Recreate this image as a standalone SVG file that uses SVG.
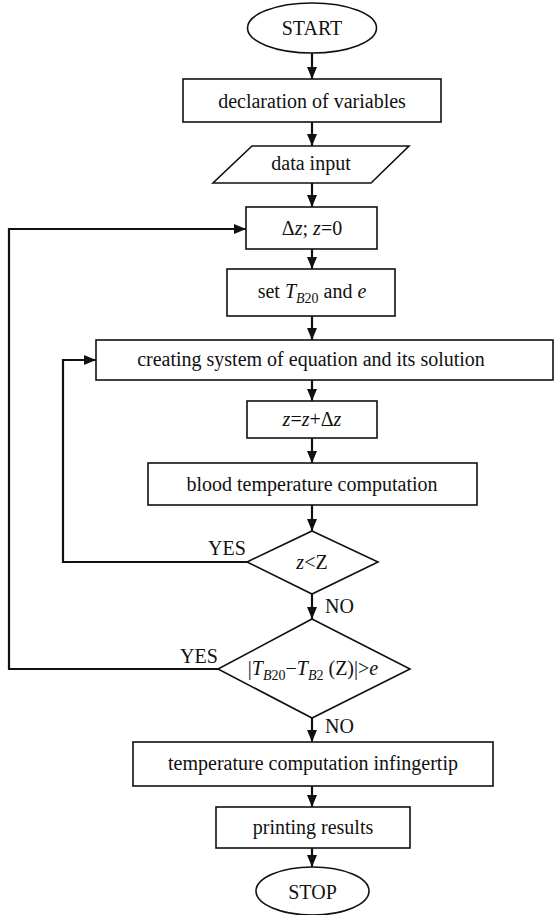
<svg xmlns="http://www.w3.org/2000/svg" width="554" height="915" viewBox="0 0 554 915">
<style>
.n{fill:#fff;stroke:#111;stroke-width:1.6}
.t{font-family:"Liberation Serif","Times New Roman",serif;font-size:20px;fill:#111;text-anchor:middle}
.l{font-family:"Liberation Serif","Times New Roman",serif;font-size:20px;fill:#111}
.i{font-style:italic}
.c{fill:none;stroke:#111;stroke-width:2.2}
</style>
<defs>
<marker id="ah" viewBox="0 0 12 10" refX="12" refY="5" markerWidth="12" markerHeight="10" markerUnits="userSpaceOnUse" orient="auto">
<path d="M0,0 L12,5 L0,10 z" fill="#111"/>
</marker>
</defs>
<rect width="554" height="915" fill="#fff"/>
<g id="connectors">
<line class="c" x1="312" y1="53" x2="312" y2="79" marker-end="url(#ah)"/>
<line class="c" x1="312" y1="122" x2="312" y2="146" marker-end="url(#ah)"/>
<line class="c" x1="312" y1="183" x2="312" y2="207" marker-end="url(#ah)"/>
<line class="c" x1="312" y1="249" x2="312" y2="269" marker-end="url(#ah)"/>
<line class="c" x1="312" y1="316" x2="312" y2="340" marker-end="url(#ah)"/>
<line class="c" x1="312" y1="380" x2="312" y2="401" marker-end="url(#ah)"/>
<line class="c" x1="312" y1="438" x2="312" y2="463" marker-end="url(#ah)"/>
<line class="c" x1="312" y1="505" x2="312" y2="531" marker-end="url(#ah)"/>
<line class="c" x1="312" y1="594" x2="312" y2="619" marker-end="url(#ah)"/>
<line class="c" x1="312" y1="718" x2="312" y2="742" marker-end="url(#ah)"/>
<line class="c" x1="312" y1="786" x2="312" y2="807" marker-end="url(#ah)"/>
<line class="c" x1="312" y1="848" x2="312" y2="867" marker-end="url(#ah)"/>
<polyline class="c" points="247,562 63,562 63,360 96,360" marker-end="url(#ah)"/>
<polyline class="c" points="218,669 9,669 9,229 246,229" marker-end="url(#ah)"/>
<text class="l" x="208" y="555">YES</text>
<text class="l" x="325" y="613">NO</text>
<text class="l" x="180" y="663">YES</text>
<text class="l" x="325" y="733">NO</text>
</g>
<g id="start">
<ellipse class="n" cx="312" cy="28" rx="64.5" ry="25"/>
<text class="t" x="312" y="35">START</text>
</g>
<g id="declaration">
<rect class="n" x="183" y="79" width="258" height="43"/>
<text class="t" x="312" y="108">declaration of variables</text>
</g>
<g id="data-input">
<polygon class="n" points="252,146 409,146 371,183 213,183"/>
<text class="t" x="311" y="170">data input</text>
</g>
<g id="init">
<rect class="n" x="246" y="207" width="131" height="42"/>
<text class="t" x="312" y="235">Δ<tspan class="i">z</tspan>; <tspan class="i">z</tspan>=0</text>
</g>
<g id="set">
<rect class="n" x="227" y="269" width="168" height="47"/>
<text class="t" x="312" y="298">set <tspan class="i">T</tspan><tspan class="i" font-size="14" dy="5">B</tspan><tspan font-size="14">20</tspan><tspan dy="-5"> and </tspan><tspan class="i">e</tspan></text>
</g>
<g id="creating">
<rect class="n" x="96" y="340" width="457" height="40"/>
<text class="t" x="311" y="366">creating system of equation and its solution</text>
</g>
<g id="increment">
<rect class="n" x="247" y="401" width="130" height="37"/>
<text class="t" x="312" y="426"><tspan class="i">z</tspan>=<tspan class="i">z</tspan>+Δ<tspan class="i">z</tspan></text>
</g>
<g id="blood">
<rect class="n" x="148" y="463" width="329" height="42"/>
<text class="t" x="312" y="491">blood temperature computation</text>
</g>
<g id="decision1">
<polygon class="n" points="312,531 378,562 312,594 247,562"/>
<text class="t" x="312" y="569"><tspan class="i">z</tspan>&lt;Z</text>
</g>
<g id="decision2">
<polygon class="n" points="312,619 410,669 312,718 218,669"/>
<text class="t" x="313" y="675">|<tspan class="i">T</tspan><tspan class="i" font-size="14" dy="5">B</tspan><tspan font-size="14">20</tspan><tspan dy="-5">−</tspan><tspan class="i">T</tspan><tspan class="i" font-size="14" dy="5">B</tspan><tspan font-size="14">2</tspan><tspan dy="-5"> (Z)|&gt;</tspan><tspan class="i">e</tspan></text>
</g>
<g id="fingertip">
<rect class="n" x="133" y="742" width="360" height="44"/>
<text class="t" x="313" y="770">temperature computation infingertip</text>
</g>
<g id="printing">
<rect class="n" x="216" y="807" width="194" height="41"/>
<text class="t" x="313" y="834">printing results</text>
</g>
<g id="stop">
<ellipse class="n" cx="312.5" cy="891" rx="56.5" ry="24"/>
<text class="t" x="312.5" y="899">STOP</text>
</g>
</svg>
